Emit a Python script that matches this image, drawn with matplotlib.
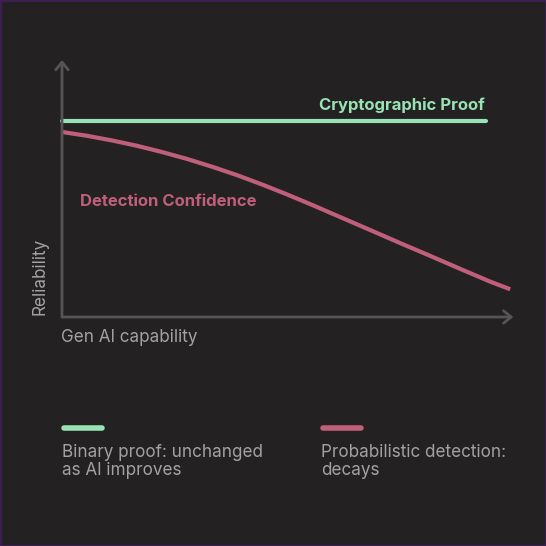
"""Reliability vs Gen AI capability: cryptographic proof vs detection confidence."""
import matplotlib.pyplot as plt
from matplotlib.lines import Line2D
from matplotlib.patches import Rectangle

# data (capability 0-100, reliability 0-100)
proof_x = [0, 94.2]
proof_y = [76.3, 76.3]
detect_x = [0, 5.6, 11.1, 16.7, 22.2, 27.8, 33.3, 38.9, 44.4, 50.0,
            55.6, 61.8, 68.4, 75.1, 81.8, 88.4, 95.1, 99.6]
detect_y = [72.0, 70.5, 68.7, 66.6, 64.2, 61.5, 58.5, 55.2, 51.6, 47.7,
            43.6, 38.9, 33.9, 28.8, 23.8, 18.8, 13.8, 10.8]

BG = "#232122"
GREEN = "#98e2b4"
RED = "#bf5f7b"
AXIS = "#565454"
TEXT = "#a3a1a1"
W = H = 546

plt.rcParams["font.family"] = ["Inter", "DejaVu Sans"]

fig = plt.figure(figsize=(W / 100, H / 100), dpi=100, facecolor=BG)
ax = fig.add_axes([62 / W, 1 - 317 / H, 450 / W, 257 / H])
ax.set_facecolor(BG)
ax.set_xlim(0, 100)
ax.set_ylim(0, 100)
for s in ax.spines.values():
    s.set_visible(False)
ax.set_xticks([])
ax.set_yticks([])

# axis arrows
arrow = dict(arrowstyle="->,head_length=0.55,head_width=0.45", color=AXIS, lw=2,
             shrinkA=0, shrinkB=0)
ax.annotate("", xy=(1.003, 0), xytext=(0, 0), xycoords="axes fraction", arrowprops=arrow,
            annotation_clip=False)
ax.annotate("", xy=(0, 1.0), xytext=(0, 0), xycoords="axes fraction", arrowprops=arrow,
            annotation_clip=False)

ax.plot(proof_x, proof_y, color=GREEN, lw=3, solid_capstyle="round", clip_on=False)
ax.plot(detect_x, detect_y, color=RED, lw=3, solid_capstyle="butt",
        solid_joinstyle="round", clip_on=False)

ax.text(94.0, 82.5, "Cryptographic Proof", color=GREEN, fontsize=12, fontweight="bold",
        ha="right", va="center")
ax.text(4.0, 44.8, "Detection Confidence", color=RED, fontsize=12, fontweight="bold",
        ha="left", va="center")

fig.text(40 / W, 1 - 276 / H, "Reliability", color=TEXT, fontsize=12.3, rotation=90,
         ha="center", va="center")
fig.text(61 / W, 1 - 337 / H, "Gen AI capability", color=TEXT, fontsize=12.3,
         ha="left", va="center")

# legend
for x0, col in [(64, GREEN), (323, RED)]:
    fig.add_artist(Line2D([x0 / W, (x0 + 38) / W], [1 - 428 / H] * 2, color=col, lw=4,
                          solid_capstyle="round"))
fig.text(62 / W, 1 - 461.5 / H, "Binary proof: unchanged\nas AI improves", color=TEXT,
         fontsize=12.3, ha="left", va="center", linespacing=1.15)
fig.text(321 / W, 1 - 461.5 / H, "Probabilistic detection:\ndecays", color=TEXT,
         fontsize=12.3, ha="left", va="center", linespacing=1.15)

fig.add_artist(Rectangle((0, 0), 1, 1, transform=fig.transFigure, fill=False,
                         edgecolor="#3d1f55", lw=2))

fig.savefig("out.png", dpi=100, facecolor=BG)
